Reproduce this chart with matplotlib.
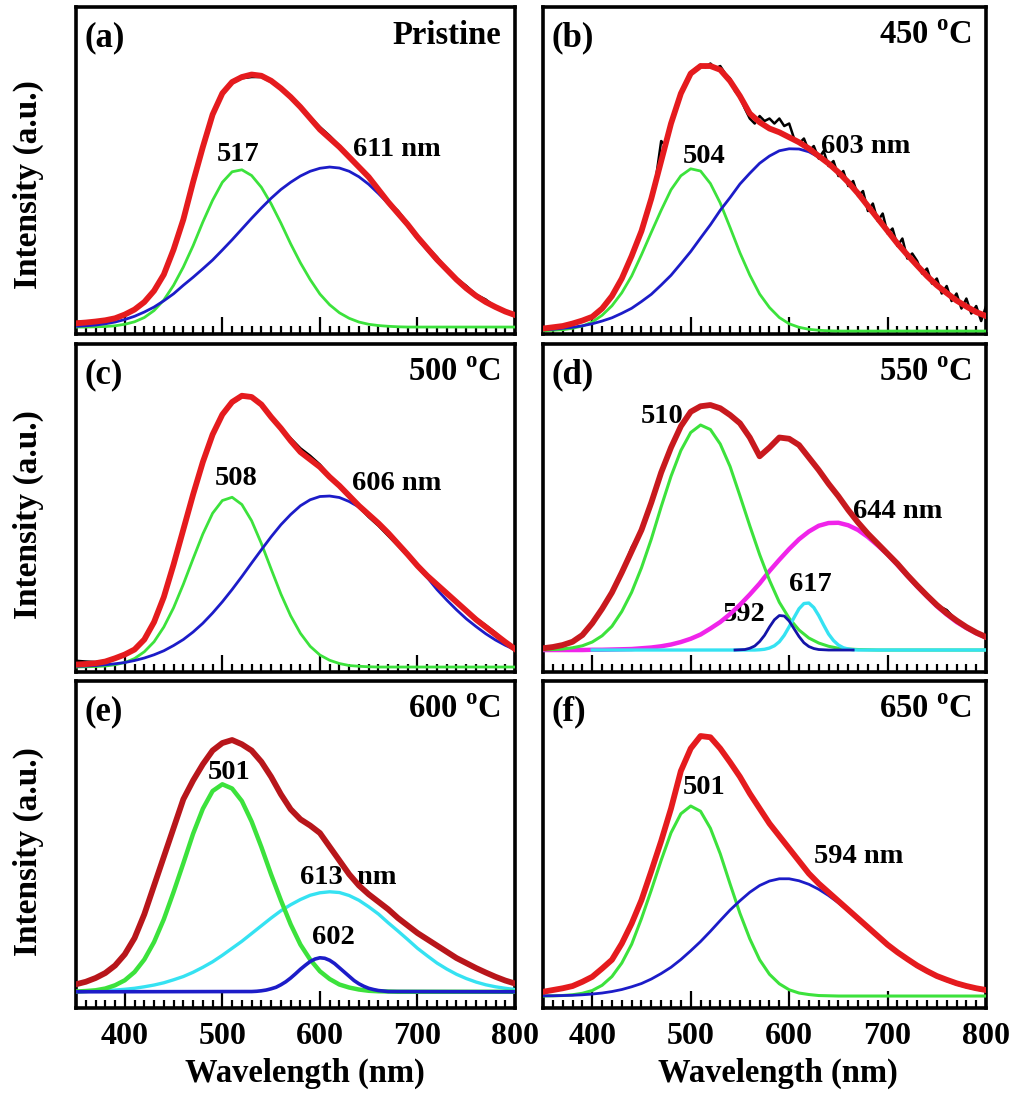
import matplotlib
matplotlib.use('Agg')
import matplotlib.pyplot as plt
from matplotlib.ticker import MultipleLocator

plt.rcParams['font.family'] = 'Liberation Serif'
plt.rcParams['font.weight'] = 'bold'
plt.rcParams['mathtext.fontset'] = 'custom'
plt.rcParams['mathtext.rm'] = 'Liberation Serif:bold'
plt.rcParams['mathtext.bf'] = 'Liberation Serif:bold'

# wavelength grid of the fitted curves (nm)
wl = [350, 360, 370, 380, 390, 400, 410, 420, 430, 440,
      450, 460, 470, 480, 490, 500, 510, 520, 530, 540,
      550, 560, 570, 580, 590, 600, 610, 620, 630, 640,
      650, 660, 670, 680, 690, 700, 710, 720, 730, 740,
      750, 760, 770, 780, 790, 800]

# finer grid for the noisy 450 C spectrum
wl5 = [350, 355, 360, 365, 370, 375, 380, 385, 390, 395,
       400, 405, 410, 415, 420, 425, 430, 435, 440, 445,
       450, 455, 460, 465, 470, 475, 480, 485, 490, 495,
       500, 505, 510, 515, 520, 525, 530, 535, 540, 545,
       550, 555, 560, 565, 570, 575, 580, 585, 590, 595,
       600, 605, 610, 615, 620, 625, 630, 635, 640, 645,
       650, 655, 660, 665, 670, 675, 680, 685, 690, 695,
       700, 705, 710, 715, 720, 725, 730, 735, 740, 745,
       750, 755, 760, 765, 770, 775, 780, 785, 790, 795,
       800]

# (a) pristine
fit_a = [.015, .018, .022, .027, .035, .05, .07, .10, .145, .21,
         .31, .43, .58, .72, .85, .935, .98, 1.0, 1.01, 1.005,
         .985, .955, .92, .88, .835, .79, .755, .72, .68, .64,
         .60, .55, .50, .455, .41, .36, .315, .27, .23, .19,
         .155, .125, .10, .08, .062, .048]
obs_a = [.02, .022, .02, .03, .035, .05, .07, .10, .15, .21,
         .31, .43, .585, .72, .85, .93, .975, .995, 1.0, 1.0,
         .98, .955, .92, .88, .84, .80, .765, .725, .68, .64,
         .60, .55, .50, .465, .415, .365, .32, .28, .23, .195,
         .165, .13, .11, .08, .065, .05]
g517_a = [0, 0, .001, .002, .005, .011, .021, .038, .066, .108,
          .167, .240, .325, .420, .507, .579, .621, .629, .606, .559,
          .493, .416, .333, .257, .190, .132, .089, .057, .035, .020,
          .011, .006, .003, .001, 0, 0, 0, 0, 0, 0,
          0, 0, 0, 0, 0, 0]
b611_a = [.003, .005, .008, .013, .02, .03, .043, .06, .08, .105,
          .133, .167, .199, .233, .268, .308, .349, .392, .435, .476,
          .515, .550, .579, .604, .623, .635, .640, .636, .623, .601,
          .571, .534, .494, .450, .404, .353, .308, .264, .224, .186,
          .151, .122, .097, .077, .059, .045]

# (b) 450 C
fit_b = [.01, .015, .02, .03, .042, .057, .09, .14, .21, .30,
         .40, .53, .68, .83, .95, 1.03, 1.06, 1.06, 1.045, 1.0,
         .94, .87, .835, .81, .795, .775, .755, .73, .70, .67,
         .635, .595, .55, .50, .45, .40, .35, .305, .262, .22,
         .183, .152, .122, .098, .076, .06]
obs_b = [.012, .01, .017, .015, .022, .02, .03, .035, .045, .05,
         .06, .072, .092, .11, .145, .17, .21, .25, .30, .345,
         .41, .46, .53, .62, .76, .74, .83, .90, .95, .99,
         1.035, 1.05, 1.065, 1.055, 1.07, 1.05, 1.06, 1.03, 1.01, .96,
         .935, .89, .85, .83, .86, .84, .85, .83, .85, .82,
         .83, .77, .75, .77, .72, .74, .69, .72, .66, .68,
         .62, .64, .58, .60, .54, .56, .48, .51, .44, .47,
         .39, .41, .34, .37, .29, .31, .28, .23, .25, .19,
         .21, .15, .18, .12, .15, .09, .13, .07, .10, .04,
         .10]
g504_b = [.001, .003, .005, .011, .020, .036, .063, .101, .153, .220,
          .305, .395, .483, .565, .621, .649, .640, .590, .512, .414,
          .313, .224, .148, .094, .054, .029, .015, .007, .003, .001,
          0, 0, 0, 0, 0, 0, 0, 0, 0, 0,
          0, 0, 0, 0, 0, 0]
b603_b = [.005, .007, .011, .015, .021, .029, .040, .053, .071, .091,
          .118, .147, .184, .223, .270, .318, .372, .425, .483, .534,
          .588, .631, .671, .700, .721, .729, .728, .717, .696, .668,
          .634, .591, .547, .498, .448, .399, .347, .301, .259, .217,
          .181, .150, .120, .097, .075, .059]

# (c) 500 C
fit_c = [.01, .012, .015, .022, .035, .05, .07, .11, .18, .28,
         .41, .55, .69, .82, .93, 1.01, 1.06, 1.085, 1.08, 1.05,
         1.0, .955, .905, .86, .83, .80, .76, .725, .685, .645,
         .61, .575, .536, .493, .45, .405, .365, .33, .295, .26,
         .225, .19, .16, .13, .10, .072]
obs_c = [.025, .022, .02, .025, .035, .05, .07, .11, .18, .28,
         .41, .55, .69, .82, .93, 1.005, 1.055, 1.08, 1.08, 1.05,
         1.0, .955, .915, .875, .845, .81, .765, .725, .68, .64,
         .60, .565, .525, .485, .445, .40, .36, .325, .29, .26,
         .228, .195, .167, .137, .10, .07]
g508_c = [0, .001, .002, .004, .009, .018, .034, .061, .101, .160,
          .237, .331, .433, .532, .615, .666, .679, .650, .585, .494,
          .392, .292, .205, .135, .083, .048, .027, .014, .006, .003,
          .001, 0, 0, 0, 0, 0, 0, 0, 0, 0,
          0, 0, 0, 0, 0, 0]
b606_c = [.003, .004, .006, .009, .013, .018, .026, .036, .049, .065,
          .086, .110, .140, .175, .216, .261, .310, .362, .416, .469,
          .521, .569, .610, .645, .669, .682, .684, .678, .662, .640,
          .610, .575, .536, .493, .449, .403, .358, .310, .268, .229,
          .193, .162, .133, .108, .087, .069]

# (d) 550 C
fit_d = [.007, .012, .02, .033, .06, .107, .165, .23, .31, .395,
         .48, .59, .71, .81, .895, .953, .975, .98, .967, .94,
         .907, .85, .775, .81, .85, .845, .82, .77, .72, .665,
         .615, .56, .51, .465, .425, .385, .345, .30, .258, .218,
         .18, .147, .118, .092, .07, .052]
obs_d = [.01, .012, .02, .033, .06, .107, .165, .23, .31, .41,
         .48, .59, .71, .81, .895, .95, .975, .98, .967, .94,
         .907, .85, .775, .81, .85, .85, .82, .77, .72, .665,
         .615, .56, .51, .465, .425, .38, .345, .30, .258, .22,
         .18, .16, .118, .092, .07, .052]
g510_d = [.001, .002, .004, .009, .017, .032, .057, .095, .154, .231,
          .329, .444, .573, .695, .798, .870, .900, .882, .824, .734,
          .617, .497, .382, .279, .191, .127, .080, .048, .028, .015,
          .007, .004, .002, .001, 0, 0, 0, 0, 0, 0,
          0, 0, 0, 0, 0, 0]
m644_d = [0, 0, 0, 0, 0, .001, .001, .002, .003, .004,
          .007, .010, .015, .022, .032, .045, .062, .086, .112, .144,
          .181, .222, .266, .316, .361, .404, .443, .474, .497, .508,
          .509, .499, .480, .452, .418, .382, .340, .297, .254, .214,
          .175, .142, .112, .088, .067, .050]
wl_592 = [545, 550, 555, 560, 565, 570, 575, 580, 585, 590,
          595, 600, 605, 610, 615, 620, 625, 630, 635, 640, 665]
b592_d = [0, .001, .002, .007, .016, .034, .059, .092, .121, .138,
          .136, .116, .085, .054, .029, .014, .006, .002, .001, 0, 0]
wl_617 = [400, 565, 570, 575, 580, 585, 590, 595, 600, 605, 610, 615,
          620, 625, 630, 635, 640, 645, 650, 655, 660, 665, 670, 800]
c617_d = [0, 0, .001, .003, .008, .017, .033, .059, .093, .130, .165, .186,
          .188, .170, .138, .100, .064, .038, .020, .009, .004, .001, 0, 0]

# (e) 600 C
fit_e = [.03, .04, .055, .075, .105, .15, .215, .31, .425, .54,
         .655, .77, .845, .91, .965, .995, 1.007, .99, .965, .92,
         .86, .79, .73, .69, .665, .635, .58, .525, .47, .425,
         .39, .36, .33, .295, .265, .235, .21, .185, .16, .135,
         .115, .095, .077, .06, .045, .033]
g501_e = [.001, .003, .006, .013, .026, .046, .079, .129, .199, .290,
          .399, .514, .632, .732, .803, .830, .813, .763, .681, .579,
          .469, .366, .270, .189, .129, .082, .051, .029, .017, .009,
          .004, .002, .001, 0, 0, 0, 0, 0, 0, 0,
          0, 0, 0, 0, 0, 0]
c613_e = [.001, .002, .003, .005, .007, .010, .014, .020, .027, .036,
          .048, .061, .078, .098, .120, .146, .174, .202, .233, .264,
          .295, .324, .348, .369, .386, .396, .400, .397, .385, .366,
          .340, .311, .276, .243, .209, .174, .144, .115, .091, .070,
          .053, .039, .028, .020, .014, .009]
wl_602 = [350, 525, 530, 535, 540, 545, 550, 555, 560, 565, 570,
          575, 580, 585, 590, 595, 600, 605, 610, 615, 620,
          625, 630, 635, 640, 645, 650, 655, 660, 665, 670, 800]
b602_e = [0, .001, .001, .002, .004, .007, .012, .018, .028, .040, .055,
          .072, .090, .106, .121, .131, .136, .134, .126, .113, .096,
          .079, .062, .045, .032, .022, .014, .009, .005, .003, .001, 0]

# (f) 650 C
fit_f = [.017, .024, .031, .04, .057, .077, .11, .145, .21, .29,
         .384, .50, .62, .75, .90, .99, 1.04, 1.035, .99, .935,
         .877, .81, .75, .69, .64, .59, .54, .49, .45, .415,
         .38, .345, .31, .275, .24, .205, .175, .148, .122, .10,
         .08, .065, .051, .04, .031, .024]
g501_f = [0, .001, .002, .005, .011, .022, .043, .078, .132, .207,
          .310, .424, .543, .653, .729, .760, .739, .671, .569, .448,
          .331, .229, .145, .087, .049, .025, .012, .006, .002, .001,
          0, 0, 0, 0, 0, 0, 0, 0, 0, 0,
          0, 0, 0, 0, 0, 0]
b594_f = [.001, .001, .002, .003, .005, .008, .012, .018, .026, .037,
          .050, .068, .090, .115, .146, .181, .218, .259, .302, .344,
          .381, .415, .442, .460, .469, .469, .461, .447, .427, .402,
          .373, .341, .305, .271, .237, .204, .174, .144, .118, .096,
          .077, .061, .047, .036, .027, .020]

GREEN = '#3ce23c'
BLUE = '#1c1cc8'
CYAN = '#35e2f2'
MAGENTA = '#f024ea'

panels = [
    dict(tag='(a)', temp='Pristine', rect=[0.0749, 0.6955, 0.4325, 0.2981],
         ylim=(-0.028, 1.28), obs=(wl, obs_a), fit=fit_a, red='#e51b1e',
         comps=[(wl, g517_a, GREEN, 2.0), (wl, b611_a, BLUE, 2.0)],
         notes=[('517', 516, 0.69), ('611 nm', 679, 0.71)]),
    dict(tag='(b)', temp=r'450 $^{\rm o}$C', rect=[0.535, 0.6955, 0.4365, 0.2981],
         ylim=(-0.012, 1.296), obs=(wl5, obs_b), fit=fit_b, red='#e51b1e',
         comps=[(wl, g504_b, GREEN, 2.0), (wl, b603_b, BLUE, 2.0)],
         notes=[('504', 514, 0.70), ('603 nm', 678, 0.74)]),
    dict(tag='(c)', temp=r'500 $^{\rm o}$C', rect=[0.0749, 0.3874, 0.4325, 0.299],
         ylim=(-0.02, 1.292), obs=(wl, obs_c), fit=fit_c, red='#e51b1e',
         comps=[(wl, g508_c, GREEN, 2.0), (wl, b606_c, BLUE, 2.0)],
         notes=[('508', 514, 0.754), ('606 nm', 679, 0.735)]),
    dict(tag='(d)', temp=r'550 $^{\rm o}$C', rect=[0.535, 0.3874, 0.4365, 0.299],
         ylim=(-0.088, 1.224), obs=(wl, obs_d), fit=fit_d, red='#c8191e',
         comps=[(wl, m644_d, MAGENTA, 3.2), (wl, g510_d, GREEN, 2.2),
                (wl_617, c617_d, CYAN, 2.4), (wl_592, b592_d, '#1414a8', 2.0)],
         notes=[('510', 471, 0.936), ('644 nm', 710, 0.556),
                ('617', 622, 0.264), ('592', 554, 0.144)]),
    dict(tag='(e)', temp=r'600 $^{\rm o}$C', rect=[0.0749, 0.0811, 0.4325, 0.2981],
         ylim=(-0.065, 1.243), obs=(wl, fit_e), fit=fit_e, red='#b8161b',
         comps=[(wl, c613_e, CYAN, 2.4), (wl, g501_e, GREEN, 3.2),
                (wl_602, b602_e, BLUE, 2.6)],
         notes=[('501', 507, 0.877), ('613  nm', 629, 0.457), ('602', 614, 0.217)]),
    dict(tag='(f)', temp=r'650 $^{\rm o}$C', rect=[0.535, 0.0811, 0.4365, 0.2981],
         ylim=(-0.048, 1.26), obs=(wl, fit_f), fit=fit_f, red='#e51b1e',
         comps=[(wl, g501_f, GREEN, 2.2), (wl, b594_f, BLUE, 2.0)],
         notes=[('501', 514, 0.834), ('594 nm', 671, 0.56)]),
]

fig = plt.figure(figsize=(10.15, 10.97), dpi=100)

for i, p in enumerate(panels):
    ax = fig.add_axes(p['rect'])
    ax.plot(p['obs'][0], p['obs'][1], color='black', lw=1.8, zorder=2)
    for x, y, c, lw in p['comps']:
        ax.plot(x, y, color=c, lw=lw, zorder=3)
    ax.plot(wl, p['fit'], color=p['red'], lw=4.2, zorder=4)

    for txt, x, y in p['notes']:
        ax.text(x, y, txt, ha='center', va='center', fontsize=20.5,
                fontweight='bold', zorder=1)
    ax.text(0.02, 0.905, p['tag'], transform=ax.transAxes, ha='left',
            va='center', fontsize=25, fontweight='bold')
    ax.text(0.968, 0.912, p['temp'], transform=ax.transAxes, ha='right',
            va='center', fontsize=23.5, fontweight='bold')

    ax.set_xlim(350, 800)
    ax.set_ylim(*p['ylim'])
    ax.set_yticks([])
    ax.xaxis.set_major_locator(MultipleLocator(100))
    ax.xaxis.set_minor_locator(MultipleLocator(10))
    ax.tick_params(axis='x', which='major', direction='in', length=12,
                   width=1.6, labelsize=23, pad=10)
    ax.tick_params(axis='x', which='minor', direction='in', length=5.8,
                   width=1.6)
    if i < 4:
        ax.tick_params(axis='x', labelbottom=False)
    for s in ax.spines.values():
        s.set_linewidth(2.6)

# axis titles
for y in [0.8314, 0.5305, 0.2233]:
    fig.text(0.0276, y, 'Intensity (a.u.)', rotation=90, ha='center',
             va='center', fontsize=24, fontweight='bold')
for x in [0.3005, 0.7665]:
    fig.text(x, 0.0219, 'Wavelength (nm)', ha='center', va='center',
             fontsize=23.5, fontweight='bold')

fig.savefig('out.png', dpi=100)
